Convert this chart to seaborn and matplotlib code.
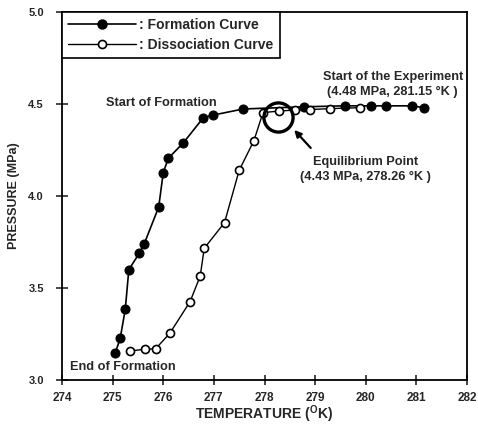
import matplotlib
matplotlib.use("Agg")
import matplotlib.pyplot as plt
import seaborn as sns
import pandas as pd
from matplotlib.lines import Line2D

# Formation curve (cooling, hydrate forming)
form_temp = [275.05, 275.15, 275.25, 275.32, 275.53, 275.62, 275.91, 276.00, 276.10,
             276.40, 276.79, 276.99, 277.58, 278.79, 279.59, 280.10, 280.40, 280.91, 281.15]
form_pres = [3.145, 3.227, 3.384, 3.600, 3.690, 3.737, 3.940, 4.127, 4.205,
             4.290, 4.425, 4.440, 4.473, 4.485, 4.490, 4.490, 4.490, 4.490, 4.480]

# Dissociation curve (heating, hydrate melting)
diss_temp = [275.34, 275.64, 275.85, 276.13, 276.53, 276.73, 276.81, 277.21, 277.50,
             277.79, 277.97, 278.29, 278.60, 278.90, 279.30, 279.89]
diss_pres = [3.158, 3.167, 3.170, 3.254, 3.426, 3.565, 3.716, 3.855, 4.140,
             4.300, 4.453, 4.462, 4.467, 4.470, 4.475, 4.480]

# Key points
eq_temp, eq_pres = 278.26, 4.43
start_temp, start_pres = 281.15, 4.48

x_ticks = [274, 275, 276, 277, 278, 279, 280, 281, 282]
y_ticks = [3.0, 3.5, 4.0, 4.5, 5.0]

sns.set_style("ticks")
plt.rcParams["font.family"] = ["Liberation Sans", "DejaVu Sans"]
plt.rcParams["font.weight"] = "bold"
plt.rcParams["mathtext.fontset"] = "custom"
plt.rcParams["mathtext.rm"] = "Liberation Sans:bold"
plt.rcParams["mathtext.bf"] = "Liberation Sans:bold"
plt.rcParams["mathtext.it"] = "Liberation Sans:bold"

fig = plt.figure(figsize=(4.78, 4.25), dpi=100)
ax = fig.add_axes([62 / 478, 1 - 380 / 425, (467 - 62) / 478, (380 - 12) / 425])

form_df = pd.DataFrame({"T": form_temp, "P": form_pres})
diss_df = pd.DataFrame({"T": diss_temp, "P": diss_pres})

sns.lineplot(data=form_df, x="T", y="P", sort=False, estimator=None, ax=ax,
             color="black", lw=1.2, marker="o", markersize=6.5,
             markerfacecolor="black", markeredgecolor="black", zorder=3)
sns.lineplot(data=diss_df, x="T", y="P", sort=False, estimator=None, ax=ax,
             color="black", lw=1.0, marker="o", markersize=5.8,
             markerfacecolor="white", markeredgecolor="black",
             markeredgewidth=1.2, zorder=4)

# Equilibrium point highlight
ax.plot([eq_temp], [eq_pres], marker="o", markersize=21, markerfacecolor="none",
        markeredgecolor="black", markeredgewidth=2.4, zorder=5)

ax.set_xlim(274, 282)
ax.set_ylim(3.0, 5.0)
ax.set_xticks(x_ticks)
ax.set_yticks(y_ticks)
ax.set_xticklabels([str(t) for t in x_ticks])
ax.set_yticklabels([f"{t:.1f}" for t in y_ticks])
ax.tick_params(axis="x", direction="inout", length=7, width=1.2,
               labelsize=8.5, pad=5)
ax.tick_params(axis="y", direction="inout", length=8, width=1.2,
               labelsize=8, pad=9)
for lab in ax.get_xticklabels() + ax.get_yticklabels():
    lab.set_fontweight("bold")
for sp in ax.spines.values():
    sp.set_visible(True)
    sp.set_linewidth(1.3)
    sp.set_color("black")

ax.set_xlabel(r"TEMPERATURE ($^{\mathrm{O}}$K)", fontsize=10, fontweight="bold", labelpad=0)
ax.set_ylabel("PRESSURE (MPa)", fontsize=9, fontweight="bold", labelpad=6)

# Annotations
fs = 9.2
ax.text(275.96, 4.505, "Start of Formation", fontsize=fs, fontweight="bold",
        ha="center", va="center")
ax.text(281.92, 4.647, "Start of the Experiment", fontsize=fs, fontweight="bold",
        ha="right", va="center")
ax.text(280.53, 4.565, f"({start_pres:.2f} MPa, {start_temp:.2f} \u00b0K )",
        fontsize=fs, fontweight="bold", ha="center", va="center")
ax.text(280.0, 4.185, "Equilibrium Point", fontsize=fs, fontweight="bold",
        ha="center", va="center")
ax.text(279.99, 4.103, f"({eq_pres:.2f} MPa, {eq_temp:.2f} \u00b0K )",
        fontsize=fs, fontweight="bold", ha="center", va="center")
ax.text(274.16, 3.07, "End of Formation", fontsize=fs, fontweight="bold",
        ha="left", va="center")
ax.annotate("", xy=(278.55, 4.37), xytext=(278.95, 4.25),
            arrowprops=dict(arrowstyle="-|>", color="black", lw=1.6,
                            mutation_scale=10))

handles = [
    Line2D([], [], color="black", lw=1.2, marker="o", markersize=6.5,
           markerfacecolor="black", markeredgecolor="black"),
    Line2D([], [], color="black", lw=1.0, marker="o", markersize=5.8,
           markerfacecolor="white", markeredgecolor="black", markeredgewidth=1.2),
]
leg = ax.legend(handles, [": Formation Curve", ": Dissociation Curve"],
                loc="upper left", borderaxespad=0, handlelength=4.9,
                handletextpad=0.2, frameon=True, fancybox=False,
                framealpha=1, edgecolor="black", borderpad=0.45,
                labelspacing=0.4, prop={"weight": "bold", "size": 10})
leg.get_frame().set_linewidth(1.2)

fig.savefig("out.png", dpi=100)
